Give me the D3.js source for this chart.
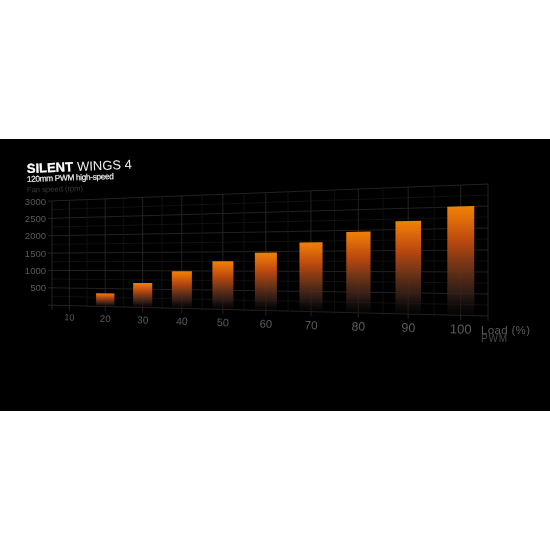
<!DOCTYPE html>
<html><head><meta charset="utf-8">
<script src="https://cdn.jsdelivr.net/npm/d3@7"></script>
<style>html,body{margin:0;padding:0;background:#fff}svg{display:block}text{font-family:"Liberation Sans",Arial,sans-serif}</style>
</head><body><script>
const loads = [20,30,40,50,60,70,80,90,100];
const rpm = [363,664,988,1252,1471,1721,1966,2197,2507];
const loadTicks = [10,20,30,40,50,60,70,80,90,100];
const rpmTicks = [500,1000,1500,2000,2500,3000];
const rpmMinor = [0,250,500,750,1000,1250,1500,1750,2000,2250,2500,2750,3000];
const loadGrid = [5,10,15,20,25,30,35,40,45,50,55,60,65,70,75,80,85,90,95,100,105];

const W=550,H=550;
const svg=d3.select("body").append("svg").attr("width",W).attr("height",H);
svg.append("rect").attr("width",W).attr("y",139).attr("height",272).attr("fill","#000");

const L={x:52,top:201,bot:305}, R={x:488,top:184,bot:316};
const persp=1.27;
const tScale=d3.scaleLinear().domain([5,105]).range([0,1]);
const xP=l=>{const t=tScale(l);return L.x+(R.x-L.x)*t/(t+(1-t)*persp);};
const topY=d3.scaleLinear().domain([L.x,R.x]).range([L.top,R.top]);
const botY=d3.scaleLinear().domain([L.x,R.x]).range([L.bot,R.bot]);
const vS=d3.scaleLinear().domain([0,3000]).range([0,1]);
const P=(l,v)=>{const x=xP(l);const b=botY(x),t=topY(x);return [x,b+(t-b)*vS(v)];};
const line=d3.line();

const defs=svg.append("defs");
defs.append("filter").attr("id","soft").attr("x","-5%").attr("y","-20%").attr("width","110%").attr("height","140%")
  .append("feGaussianBlur").attr("stdDeviation",0.3);
const g=defs.append("linearGradient").attr("id","bar").attr("x1",0).attr("x2",0).attr("y1",0).attr("y2",1);
[[0,"#ef8204",1],[.12,"#e06c0a",1],[.33,"#b8470f",1],[.58,"#6d3418",.95],[.8,"#35201a",.85],[1,"#0d0a09",.3]].forEach(s=>
  g.append("stop").attr("offset",s[0]).attr("stop-color",s[1]).attr("stop-opacity",s[2]));

const grid=svg.append("g").attr("fill","none");
rpmMinor.forEach(v=>{
  const major=v%500===0;
  const a=P(5,v), b=P(105,v);
  grid.append("path").attr("d",line([major?[a[0]-4,a[1]+.1]:a,b]))
    .attr("stroke",major?"#2b2b2b":"#171717").attr("stroke-width",major?.8:.7);
});
loadGrid.forEach(l=>{
  const major=l%10===0||l===5||l===105;
  const a=P(l,0), b=P(l,3000);
  grid.append("path").attr("d",line([[a[0],a[1]+(major?5:2)],b]))
    .attr("stroke",major?"#2b2b2b":"#171717").attr("stroke-width",major?.8:.7);
});

svg.append("g").selectAll("path").data(loads).join("path")
  .attr("fill","url(#bar)")
  .attr("d",(l,i)=>line([P(l-2.5,rpm[i]),P(l+2.5,rpm[i]),P(l+2.5,0),P(l-2.5,0)])+"Z");

const labels=svg.append("g").attr("filter","url(#soft)");
labels.append("g").selectAll("text").data(rpmTicks).join("text")
  .attr("x",46).attr("y",v=>P(5,v)[1]+3.5).attr("text-anchor","end")
  .attr("fill","#5a5a5a").attr("font-size",9.5).text(v=>v);

const fs=d3.scaleLinear().domain([10,100]).range([9.2,13]);
const labY=d3.scaleLinear().domain([10,100]).range([320.5,333.5]);
labels.append("g").selectAll("text").data(loadTicks).join("text")
  .attr("text-anchor","middle").attr("fill","#5a5a5a")
  .attr("font-size",l=>fs(l))
  .attr("transform",l=>`translate(${xP(l)},${labY(l)}) rotate(1.5)`)
  .text(l=>l);

const rot=(x,y,a)=>`translate(${x},${y}) rotate(${a})`;
const title=labels.append("text").attr("transform",rot(27,173,-2.3)).attr("fill","#fff").attr("font-size",13);
title.append("tspan").attr("font-weight","700").attr("stroke","#fff").attr("stroke-width",.3).text("SILENT");
title.append("tspan").attr("dx",4).attr("fill","#eee").text("WINGS 4");
labels.append("text").attr("transform",rot(27,182,-2)).attr("fill","#f2f2f2").attr("stroke","#f2f2f2").attr("stroke-width",.15).attr("font-size",8.4).attr("textLength",87).text("120mm PWM high-speed");
labels.append("text").attr("transform",rot(27,192.5,-1.8)).attr("fill","#3c3c3c").attr("font-size",7.6).text("Fan speed (rpm)");
labels.append("text").attr("transform",rot(481,334,0)).attr("fill","#5a5a5a").attr("font-size",11.5).attr("textLength",49).text("Load (%)");
labels.append("text").attr("transform",rot(481,342,0)).attr("fill","#484848").attr("font-size",10).attr("textLength",26).text("PWM");
</script></body></html>
